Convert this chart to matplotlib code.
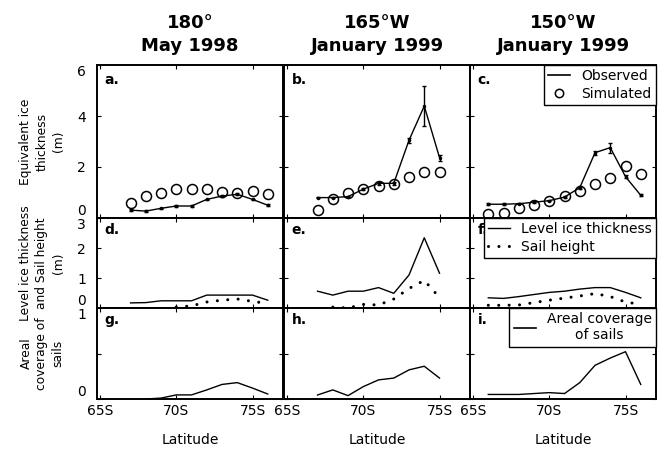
import matplotlib
matplotlib.use('Agg')
import matplotlib.pyplot as plt
from matplotlib.lines import Line2D

plt.rcParams['font.family'] = ['DejaVu Sans']

# ---------------- data ----------------
col_titles = ['180\u00b0\nMay 1998', '165\u00b0W\nJanuary 1999', '150\u00b0W\nJanuary 1999']
xtick_vals = [65, 70, 75]
xtick_labels = ['65S', '70S', '75S']

# Row 1: equivalent ice thickness (m)
lat_a = [67, 68, 69, 70, 71, 72, 73, 74, 75, 76]
obs_a = [0.31, 0.27, 0.38, 0.47, 0.47, 0.73, 0.86, 0.93, 0.73, 0.50]
err_a = [0.03, 0.03, 0.03, 0.03, 0.03, 0.03, 0.04, 0.04, 0.03, 0.03]
sim_a = [0.60, 0.86, 0.97, 1.15, 1.15, 1.12, 1.02, 0.99, 1.06, 0.95]

lat_b = [67, 68, 69, 70, 71, 72, 73, 74, 75]
obs_b = [0.80, 0.80, 0.84, 1.13, 1.36, 1.36, 3.05, 4.39, 2.37]
err_b = [0.03, 0.03, 0.03, 0.05, 0.05, 0.05, 0.10, 0.80, 0.12]
sim_b = [0.31, 0.76, 0.97, 1.13, 1.25, 1.32, 1.61, 1.80, 1.82]

lat_c = [66, 67, 68, 69, 70, 71, 72, 73, 74, 75, 76]
obs_c = [0.54, 0.54, 0.56, 0.62, 0.68, 0.82, 1.19, 2.56, 2.76, 1.62, 0.89]
err_c = [0.03, 0.03, 0.03, 0.03, 0.03, 0.04, 0.05, 0.08, 0.20, 0.06, 0.04]
sim_c = [0.15, 0.18, 0.41, 0.51, 0.67, 0.86, 1.06, 1.35, 1.58, 2.04, 1.71]

# Row 2: level ice thickness and sail height (m)
lat_d = [67, 68, 69, 70, 71, 72, 73, 74, 75, 76]
lev_d = [0.17, 0.18, 0.24, 0.24, 0.24, 0.43, 0.43, 0.43, 0.43, 0.26]
lat_ds = [70, 71, 72, 73, 74, 75, 76]
sail_d = [0.03, 0.07, 0.20, 0.26, 0.30, 0.22, 0.15]

lat_e = [67, 68, 69, 70, 71, 72, 73, 74, 75]
lev_e = [0.56, 0.43, 0.56, 0.56, 0.68, 0.49, 1.10, 2.34, 1.16]
lat_es = [68, 69, 70, 71, 72, 73, 74, 75]
sail_e = [0.03, 0.00, 0.12, 0.10, 0.30, 0.65, 0.92, 0.35]

lat_f = [66, 67, 68, 69, 70, 71, 72, 73, 74, 75, 76]
lev_f = [0.34, 0.32, 0.38, 0.45, 0.52, 0.56, 0.63, 0.68, 0.68, 0.52, 0.34]
sail_f = [0.09, 0.09, 0.10, 0.18, 0.26, 0.33, 0.40, 0.48, 0.38, 0.20, 0.12]

# Row 3: areal coverage of sails
lat_g = [68, 69, 70, 71, 72, 73, 74, 75, 76]
cov_g = [0.00, 0.01, 0.045, 0.045, 0.10, 0.16, 0.18, 0.12, 0.055]
lat_h = [67, 68, 69, 70, 71, 72, 73, 74, 75]
cov_h = [0.044, 0.10, 0.037, 0.136, 0.21, 0.23, 0.32, 0.36, 0.23]
lat_i = [66, 67, 68, 69, 70, 71, 72, 73, 74, 75, 76]
cov_i = [0.05, 0.05, 0.05, 0.06, 0.07, 0.06, 0.18, 0.37, 0.45, 0.52, 0.16]

row_ylabels = ['Equivalent ice\nthickness\n(m)',
               'Level ice thickness\nand Sail height\n(m)',
               'Areal\ncoverage of\nsails']
row_ylims = [(0, 6), (0, 3), (0, 1)]
row_yticks = [[0, 2, 4, 6], [0, 1, 2, 3], [0, 0.5, 1]]
row_yticklabels = [['0', '2', '4', '6'], ['0', '1', '2', '3'], ['0', '', '1']]
letters = [['a.', 'b.', 'c.'], ['d.', 'e.', 'f.'], ['g.', 'h.', 'i.']]

# ---------------- figure ----------------
fig = plt.figure(figsize=(6.64, 4.55), dpi=100)
W, H = 664, 455
col_x = [97, 284, 470]
col_w = 186
row_y = [(65, 218), (218, 308), (308, 399)]

axes = [[None] * 3 for _ in range(3)]
for r in range(3):
    for c in range(3):
        x0 = col_x[c]
        y0, y1 = row_y[r]
        ax = fig.add_axes([x0 / W, 1 - y1 / H, col_w / W, (y1 - y0) / H])
        axes[r][c] = ax
        ax.set_xlim(64.8, 77)
        ax.set_ylim(*row_ylims[r])
        ax.set_xticks(xtick_vals)
        ax.set_yticks(row_yticks[r])
        ax.tick_params(direction='in', top=True, right=True, length=3,
                       width=0.8, labelsize=10)
        for s in ax.spines.values():
            s.set_linewidth(1.4)
        if r == 2:
            ax.set_xticklabels(xtick_labels)
            ax.set_xlabel('Latitude', fontsize=10, labelpad=11)
        else:
            ax.set_xticklabels([])
        if c == 0:
            ax.set_yticklabels(row_yticklabels[r])
            ax.tick_params(axis='y', pad=8)
            labs = ax.get_yticklabels()
            labs[0].set_verticalalignment('bottom')
            labs[-1].set_verticalalignment('top')
        else:
            ax.set_yticklabels([])
        ax.text(0.04, 0.95, letters[r][c], transform=ax.transAxes,
                fontsize=10, fontweight='bold', va='top', ha='left')
        if r == 0:
            ax.set_title(col_titles[c], fontsize=13, fontweight='bold', pad=10,
                         linespacing=1.35)

# Row labels
for r in range(3):
    y0, y1 = row_y[r]
    fig.text(42 / W, 1 - (y0 + y1) / 2 / H, row_ylabels[r], rotation=90,
             ha='center', va='center', multialignment='center', fontsize=8.8,
             linespacing=1.3)

obs_kw = dict(color='black', lw=1.0, marker='.', ms=3, capsize=1.5,
              elinewidth=1.0)
sim_kw = dict(ls='none', marker='o', ms=7.2, mfc='none', mec='black', mew=1.1)

for ax, lat, obs, err, sim in [(axes[0][0], lat_a, obs_a, err_a, sim_a),
                               (axes[0][1], lat_b, obs_b, err_b, sim_b),
                               (axes[0][2], lat_c, obs_c, err_c, sim_c)]:
    ax.errorbar(lat, obs, yerr=err, **obs_kw)
    ax.plot(lat, sim, clip_on=True, **sim_kw)

dot_kw = dict(color='black', lw=2.2, ls=(0, (0.01, 3.4)), dash_capstyle='round')
lev_kw = dict(color='black', lw=1.0)
axes[1][0].plot(lat_d, lev_d, **lev_kw)
axes[1][0].plot(lat_ds, sail_d, **dot_kw)
axes[1][1].plot(lat_e, lev_e, **lev_kw)
axes[1][1].plot(lat_es, sail_e, **dot_kw)
axes[1][2].plot(lat_f, lev_f, **lev_kw)
axes[1][2].plot(lat_f, sail_f, **dot_kw)

axes[2][0].plot(lat_g, cov_g, **lev_kw)
axes[2][1].plot(lat_h, cov_h, **lev_kw)
axes[2][2].plot(lat_i, cov_i, **lev_kw)

leg_kw = dict(loc='upper right', borderaxespad=0, fancybox=False,
              edgecolor='black', framealpha=1, fontsize=10,
              handlelength=1.6, handletextpad=0.8, borderpad=0.3,
              labelspacing=0.25)
l1 = axes[0][2].legend([Line2D([], [], color='black', lw=1.2),
                        Line2D([], [], ls='none', marker='o', ms=6, mfc='none',
                               mec='black', mew=1.1)],
                       ['Observed', 'Simulated'], **leg_kw)
l1.get_frame().set_linewidth(1.0)
l2 = axes[1][2].legend([Line2D([], [], **lev_kw), Line2D([], [], **dot_kw)],
                       ['Level ice thickness', 'Sail height'], **leg_kw)
l2.get_frame().set_linewidth(1.0)
l3 = axes[2][2].legend([Line2D([], [], color='black', lw=1.2)],
                       ['Areal coverage\nof sails'], **leg_kw)
l3.get_frame().set_linewidth(1.0)
for t in l3.get_texts():
    t.set_multialignment('center')

fig.savefig('out.png', dpi=100)
